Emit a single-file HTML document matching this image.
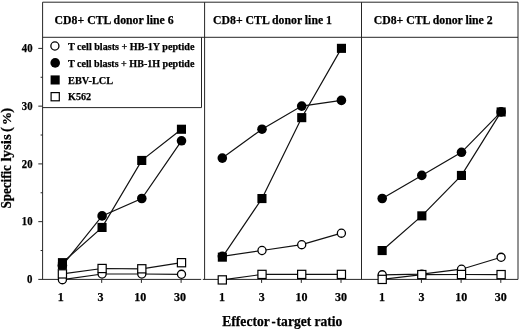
<!DOCTYPE html>
<html><head><meta charset="utf-8"><title>Specific lysis chart</title>
<style>html,body{margin:0;padding:0;background:#fff}</style></head>
<body>
<svg width="520" height="329" viewBox="0 0 520 329" style="display:block">
<rect width="520" height="329" fill="#fff"/>
<g fill="none" stroke="#262626" stroke-width="1">
<path d="M42.6 279.4V2.2H518.0V279.4H202.8M201.2 279.4H38.300000000000004"/>
<path d="M42.6 37.3H518.0"/>
<path d="M204.6 2.2V279.4M361.5 2.2V279.4"/>
<path d="M42.6 107.6H201.5V37.3"/>
<path d="M38.300000000000004 221.65H42.6"/>
<path d="M38.300000000000004 163.90H42.6"/>
<path d="M38.300000000000004 106.15H42.6"/>
<path d="M38.300000000000004 48.40H42.6"/>
<path d="M40.6 250.52H42.6"/>
<path d="M40.6 192.77H42.6"/>
<path d="M40.6 135.02H42.6"/>
<path d="M40.6 77.27H42.6"/>
<path d="M62.0 279.4V282.9"/>
<path d="M101.7 279.4V282.9"/>
<path d="M141.4 279.4V282.9"/>
<path d="M181.1 279.4V282.9"/>
<path d="M221.9 279.4V282.9"/>
<path d="M261.6 279.4V282.9"/>
<path d="M301.3 279.4V282.9"/>
<path d="M341.0 279.4V282.9"/>
<path d="M381.8 279.4V282.9"/>
<path d="M421.4 279.4V282.9"/>
<path d="M461.1 279.4V282.9"/>
<path d="M500.8 279.4V282.9"/>
</g>
<polyline points="62.4,279.7 102.1,274.0 141.8,274.0 181.5,274.3" fill="none" stroke="#111" stroke-width="1.2"/>
<circle cx="62.4" cy="279.7" r="4.05" fill="#fff" stroke="#000" stroke-width="1.3"/>
<circle cx="102.1" cy="274.0" r="4.05" fill="#fff" stroke="#000" stroke-width="1.3"/>
<circle cx="141.8" cy="274.0" r="4.05" fill="#fff" stroke="#000" stroke-width="1.3"/>
<circle cx="181.5" cy="274.3" r="4.05" fill="#fff" stroke="#000" stroke-width="1.3"/>
<polyline points="62.4,265.5 102.1,215.9 141.8,198.5 181.5,140.8" fill="none" stroke="#111" stroke-width="1.2"/>
<circle cx="62.4" cy="265.5" r="4.8" fill="#000"/>
<circle cx="102.1" cy="215.9" r="4.8" fill="#000"/>
<circle cx="141.8" cy="198.5" r="4.8" fill="#000"/>
<circle cx="181.5" cy="140.8" r="4.8" fill="#000"/>
<polyline points="62.4,262.7 102.1,227.4 141.8,160.4 181.5,129.2" fill="none" stroke="#111" stroke-width="1.2"/>
<rect x="57.9" y="258.1" width="9.1" height="9.1" fill="#000"/>
<rect x="97.5" y="222.9" width="9.1" height="9.1" fill="#000"/>
<rect x="137.2" y="155.9" width="9.1" height="9.1" fill="#000"/>
<rect x="176.9" y="124.7" width="9.1" height="9.1" fill="#000"/>
<rect x="57.9" y="262" width="9" height="7.6" fill="#000"/>
<polyline points="62.4,273.9 102.1,268.5 141.8,268.8 181.5,262.7" fill="none" stroke="#111" stroke-width="1.2"/>
<rect x="58.3" y="269.8" width="8.2" height="8.2" fill="#fff" stroke="#000" stroke-width="1.2"/>
<rect x="98.0" y="264.4" width="8.2" height="8.2" fill="#fff" stroke="#000" stroke-width="1.2"/>
<rect x="137.7" y="264.7" width="8.2" height="8.2" fill="#fff" stroke="#000" stroke-width="1.2"/>
<rect x="177.4" y="258.6" width="8.2" height="8.2" fill="#fff" stroke="#000" stroke-width="1.2"/>
<polyline points="222.3,256.3 262.0,250.5 301.7,244.7 341.4,233.2" fill="none" stroke="#111" stroke-width="1.2"/>
<circle cx="222.3" cy="256.3" r="4.05" fill="#fff" stroke="#000" stroke-width="1.3"/>
<circle cx="262.0" cy="250.5" r="4.05" fill="#fff" stroke="#000" stroke-width="1.3"/>
<circle cx="301.7" cy="244.7" r="4.05" fill="#fff" stroke="#000" stroke-width="1.3"/>
<circle cx="341.4" cy="233.2" r="4.05" fill="#fff" stroke="#000" stroke-width="1.3"/>
<polyline points="222.3,158.1 262.0,129.2 301.7,106.1 341.4,100.4" fill="none" stroke="#111" stroke-width="1.2"/>
<circle cx="222.3" cy="158.1" r="4.8" fill="#000"/>
<circle cx="262.0" cy="129.2" r="4.8" fill="#000"/>
<circle cx="301.7" cy="106.1" r="4.8" fill="#000"/>
<circle cx="341.4" cy="100.4" r="4.8" fill="#000"/>
<polyline points="222.3,257.2 262.0,198.5 301.7,117.7 341.4,48.4" fill="none" stroke="#111" stroke-width="1.2"/>
<rect x="217.8" y="252.6" width="9.1" height="9.1" fill="#000"/>
<rect x="257.4" y="194.0" width="9.1" height="9.1" fill="#000"/>
<rect x="297.2" y="113.1" width="9.1" height="9.1" fill="#000"/>
<rect x="336.9" y="43.8" width="9.1" height="9.1" fill="#000"/>
<polyline points="222.3,279.9 262.0,274.4 301.7,274.4 341.4,274.4" fill="none" stroke="#111" stroke-width="1.2"/>
<rect x="218.2" y="275.8" width="8.2" height="8.2" fill="#fff" stroke="#000" stroke-width="1.2"/>
<rect x="257.9" y="270.3" width="8.2" height="8.2" fill="#fff" stroke="#000" stroke-width="1.2"/>
<rect x="297.6" y="270.3" width="8.2" height="8.2" fill="#fff" stroke="#000" stroke-width="1.2"/>
<rect x="337.3" y="270.3" width="8.2" height="8.2" fill="#fff" stroke="#000" stroke-width="1.2"/>
<polyline points="382.2,274.8 421.8,274.2 461.5,269.2 501.1,257.3" fill="none" stroke="#111" stroke-width="1.2"/>
<circle cx="382.2" cy="274.8" r="4.05" fill="#fff" stroke="#000" stroke-width="1.3"/>
<circle cx="421.8" cy="274.2" r="4.05" fill="#fff" stroke="#000" stroke-width="1.3"/>
<circle cx="461.5" cy="269.2" r="4.05" fill="#fff" stroke="#000" stroke-width="1.3"/>
<circle cx="501.1" cy="257.3" r="4.05" fill="#fff" stroke="#000" stroke-width="1.3"/>
<polyline points="382.2,198.5 421.8,175.4 461.5,152.3 501.1,111.9" fill="none" stroke="#111" stroke-width="1.2"/>
<circle cx="382.2" cy="198.5" r="4.8" fill="#000"/>
<circle cx="421.8" cy="175.4" r="4.8" fill="#000"/>
<circle cx="461.5" cy="152.3" r="4.8" fill="#000"/>
<circle cx="501.1" cy="111.9" r="4.8" fill="#000"/>
<polyline points="382.2,250.5 421.8,215.9 461.5,175.4 501.1,111.9" fill="none" stroke="#111" stroke-width="1.2"/>
<rect x="377.6" y="246.0" width="9.1" height="9.1" fill="#000"/>
<rect x="417.3" y="211.3" width="9.1" height="9.1" fill="#000"/>
<rect x="456.9" y="170.9" width="9.1" height="9.1" fill="#000"/>
<rect x="496.6" y="107.4" width="9.1" height="9.1" fill="#000"/>
<polyline points="382.2,279.4 421.8,274.6 461.5,274.5 501.1,274.6" fill="none" stroke="#111" stroke-width="1.2"/>
<rect x="378.1" y="275.3" width="8.2" height="8.2" fill="#fff" stroke="#000" stroke-width="1.2"/>
<rect x="417.7" y="270.5" width="8.2" height="8.2" fill="#fff" stroke="#000" stroke-width="1.2"/>
<rect x="457.4" y="270.4" width="8.2" height="8.2" fill="#fff" stroke="#000" stroke-width="1.2"/>
<rect x="497.0" y="270.5" width="8.2" height="8.2" fill="#fff" stroke="#000" stroke-width="1.2"/>
<g font-family="'Liberation Serif', 'Times New Roman', serif" font-weight="bold" fill="#000" stroke="#000" stroke-width="0.25">
<text x="54.6" y="24" font-size="12.5" textLength="119" lengthAdjust="spacingAndGlyphs">CD8+ CTL donor line 6</text>
<text x="213.0" y="24" font-size="12.5" textLength="119" lengthAdjust="spacingAndGlyphs">CD8+ CTL donor line 1</text>
<text x="373.7" y="24" font-size="12.5" textLength="119" lengthAdjust="spacingAndGlyphs">CD8+ CTL donor line 2</text>
<text x="27.1" y="283.2" font-size="11.7" textLength="5.4" lengthAdjust="spacingAndGlyphs">0</text>
<text x="21.8" y="225.4" font-size="11.7" textLength="10.7" lengthAdjust="spacingAndGlyphs">10</text>
<text x="21.8" y="167.7" font-size="11.7" textLength="10.7" lengthAdjust="spacingAndGlyphs">20</text>
<text x="21.8" y="109.9" font-size="11.7" textLength="10.7" lengthAdjust="spacingAndGlyphs">30</text>
<text x="21.8" y="52.2" font-size="11.7" textLength="10.7" lengthAdjust="spacingAndGlyphs">40</text>
<text x="60.8" y="300.8" font-size="12" text-anchor="middle">1</text>
<text x="100.5" y="300.8" font-size="12" text-anchor="middle">3</text>
<text x="140.2" y="300.8" font-size="12" text-anchor="middle">10</text>
<text x="179.9" y="300.8" font-size="12" text-anchor="middle">30</text>
<text x="222.0" y="300.8" font-size="12" text-anchor="middle">1</text>
<text x="261.7" y="300.8" font-size="12" text-anchor="middle">3</text>
<text x="301.4" y="300.8" font-size="12" text-anchor="middle">10</text>
<text x="341.1" y="300.8" font-size="12" text-anchor="middle">30</text>
<text x="381.9" y="300.8" font-size="12" text-anchor="middle">1</text>
<text x="421.5" y="300.8" font-size="12" text-anchor="middle">3</text>
<text x="461.2" y="300.8" font-size="12" text-anchor="middle">10</text>
<text x="500.8" y="300.8" font-size="12" text-anchor="middle">30</text>
<text y="325.6" font-size="13.7"><tspan x="222.3" textLength="47.4" lengthAdjust="spacingAndGlyphs">Effector</tspan><tspan x="271.4" textLength="4.2" lengthAdjust="spacingAndGlyphs">-</tspan><tspan x="276.6" textLength="65.8" lengthAdjust="spacingAndGlyphs">target ratio</tspan></text>
<text transform="translate(11,208.5) rotate(-90)" font-size="14.4"><tspan x="0" textLength="43.4" lengthAdjust="spacingAndGlyphs">Specific</tspan><tspan x="46.9" textLength="27.3" lengthAdjust="spacingAndGlyphs">lysis</tspan><tspan x="76.5">(</tspan><tspan x="83.6" font-size="13">%</tspan><tspan x="95.7">)</tspan></text>
</g>
<circle cx="54.9" cy="46.0" r="4.05" fill="#fff" stroke="#000" stroke-width="1.3"/>
<circle cx="55.2" cy="62.9" r="4.8" fill="#000"/>
<rect x="50.6" y="75.4" width="9.1" height="9.1" fill="#000"/>
<rect x="51.1" y="92.6" width="8.2" height="8.2" fill="#fff" stroke="#000" stroke-width="1.2"/>
<g font-family="'Liberation Serif', 'Times New Roman', serif" font-weight="bold" fill="#000" stroke="#000" stroke-width="0.25">
<text x="68" y="49.9" font-size="10.9" textLength="126.4" lengthAdjust="spacingAndGlyphs">T cell blasts + HB-1Y peptide</text>
<text x="68" y="66.7" font-size="10.9" textLength="126.4" lengthAdjust="spacingAndGlyphs">T cell blasts + HB-1H peptide</text>
<text x="68" y="83.6" font-size="10.9" textLength="45.2" lengthAdjust="spacingAndGlyphs">EBV-LCL</text>
<text x="68" y="100.3" font-size="10.9" textLength="23.2" lengthAdjust="spacingAndGlyphs">K562</text>
</g>
</svg>
</body></html>
